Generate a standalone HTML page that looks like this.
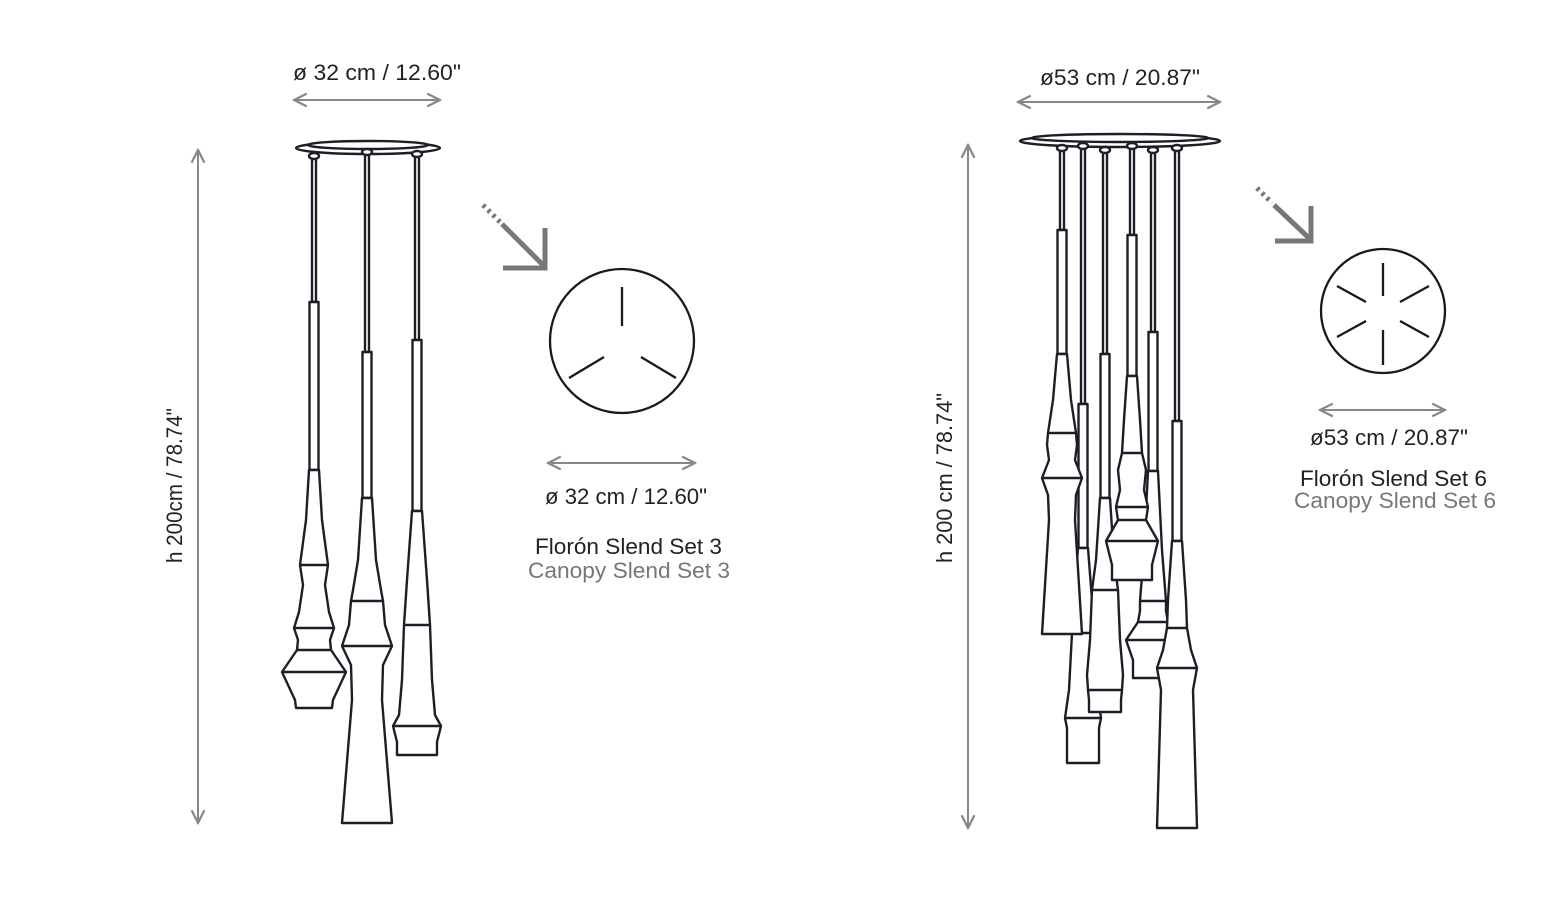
<!DOCTYPE html>
<html><head><meta charset="utf-8"><style>
html,body{margin:0;padding:0;background:#fff}
svg{display:block}
text{font-family:"Liberation Sans Narrow","Liberation Sans",sans-serif}
</style></head><body>
<svg id="s" width="1556" height="912" viewBox="0 0 1556 912" xmlns="http://www.w3.org/2000/svg">
<defs>
<marker id="ah" viewBox="0 0 10 10" refX="9" refY="5" markerWidth="8" markerHeight="8" orient="auto-start-reverse"><path d="M1,1 L9,5 L1,9" fill="none" stroke="#888" stroke-width="1.4"/></marker>
</defs>
<g stroke="#888" stroke-width="2" fill="none">
<line x1="294" y1="100" x2="440" y2="100" marker-start="url(#ah)" marker-end="url(#ah)"/>
<line x1="198" y1="150" x2="198" y2="823" marker-start="url(#ah)" marker-end="url(#ah)"/>
<line x1="548" y1="463" x2="695" y2="463" marker-start="url(#ah)" marker-end="url(#ah)"/>
<line x1="1018" y1="102" x2="1220" y2="102" marker-start="url(#ah)" marker-end="url(#ah)"/>
<line x1="968" y1="145" x2="968" y2="828" marker-start="url(#ah)" marker-end="url(#ah)"/>
<line x1="1320" y1="410" x2="1445" y2="410" marker-start="url(#ah)" marker-end="url(#ah)"/>
</g>
<g fill="#222" font-size="22">
<text x="293" y="80" textLength="168" lengthAdjust="spacingAndGlyphs">ø 32 cm / 12.60"</text>
<text x="1040" y="85" textLength="160" lengthAdjust="spacingAndGlyphs">ø53 cm / 20.87"</text>
<text x="545" y="504" textLength="162" lengthAdjust="spacingAndGlyphs">ø 32 cm / 12.60"</text>
<text x="535" y="554" textLength="187" lengthAdjust="spacingAndGlyphs">Florón Slend Set 3</text>
<text x="528" y="578" textLength="202" lengthAdjust="spacingAndGlyphs" fill="#777">Canopy Slend Set 3</text>
<text x="1310" y="445" textLength="158" lengthAdjust="spacingAndGlyphs">ø53 cm / 20.87"</text>
<text x="1300" y="486" textLength="187" lengthAdjust="spacingAndGlyphs">Florón Slend Set 6</text>
<text x="1294" y="508" textLength="202" lengthAdjust="spacingAndGlyphs" fill="#777">Canopy Slend Set 6</text>
<text transform="translate(182,563) rotate(-90)" textLength="155" lengthAdjust="spacingAndGlyphs">h 200cm / 78.74"</text>
<text transform="translate(952,563) rotate(-90)" textLength="170" lengthAdjust="spacingAndGlyphs">h 200 cm / 78.74"</text>
</g>
<g stroke="#777" fill="none" stroke-linecap="butt">
<path d="M483,205 L500,222" stroke-width="5" stroke-dasharray="3,4"/>
<path d="M502,224 L544,266" stroke-width="5"/>
<path d="M545,228 L545,268 L503,268" stroke-width="5"/>
<path d="M1257,188 L1272,203" stroke-width="5" stroke-dasharray="3,4"/>
<path d="M1274,205 L1310,239" stroke-width="5"/>
<path d="M1311,206 L1311,241 L1275,241" stroke-width="5"/>
</g>
<g stroke="#1a1a1a" stroke-width="2.3" fill="none">
<circle cx="622" cy="341" r="72"/>
<line x1="622" y1="287" x2="622" y2="326"/>
<line x1="604" y1="357" x2="569" y2="378"/>
<line x1="641" y1="357" x2="676" y2="378"/>
<circle cx="1383" cy="311" r="62"/>
<line x1="1383" y1="263" x2="1383" y2="296"/>
<line x1="1383" y1="330" x2="1383" y2="365"/>
<line x1="1337" y1="286" x2="1366" y2="302"/>
<line x1="1429" y1="286" x2="1400" y2="302"/>
<line x1="1337" y1="337" x2="1366" y2="321"/>
<line x1="1429" y1="337" x2="1400" y2="321"/>
</g>
<g id="lamps" stroke="#1c1f28" stroke-width="2.4" fill="#fff" stroke-linejoin="round"></g>
</svg>
<script>
var g=document.getElementById('lamps');
var NS='http://www.w3.org/2000/svg';
function el(t,a){var e=document.createElementNS(NS,t);for(var k in a)e.setAttribute(k,a[k]);g.appendChild(e);return e;}
function canopy(x1,x2,y){var cx=(x1+x2)/2,rx=(x2-x1)/2;
 el('ellipse',{cx:cx,cy:y+6,rx:rx,ry:6});
 el('ellipse',{cx:cx,cy:y+3,rx:rx-12,ry:4});}
function lamp(x,ctop,tube,body,prof,rings){
 el('rect',{x:x-2,y:ctop,width:4,height:tube-ctop});
 el('ellipse',{cx:x,cy:ctop,rx:5,ry:3});
 el('rect',{x:x-4.5,y:tube,width:9,height:body-tube});
 var L=[],R=[];
 prof.forEach(function(p){L.push((x-p[1]).toFixed(1)+','+p[0]);R.unshift((x+p[1]).toFixed(1)+','+p[0]);});
 el('path',{d:'M'+L.join(' L')+' L'+R.join(' L')+' Z'});
 (rings||[]).forEach(function(r){
  var w=0;for(var i=0;i<prof.length-1;i++){if(r>=prof[i][0]&&r<=prof[i+1][0]){var t=(r-prof[i][0])/(prof[i+1][0]-prof[i][0]);w=prof[i][1]+t*(prof[i+1][1]-prof[i][1]);}}
  el('line',{x1:x-w,y1:r,x2:x+w,y2:r});});
}
canopy(296,440,142);
lamp(314,156,302,470,[[470,5],[520,8],[550,12],[565,14],[585,11],[612,15],[628,20],[640,16],[650,17],[672,32],[700,19],[708,18]],[565,628,650,672]);
lamp(367,152,352,498,[[498,5],[560,9],[590,14],[601,16],[625,18],[646,25],[665,16],[700,15],[823,25]],[601,646]);
lamp(417,154,340,511,[[511,5],[580,10],[625,13],[680,15],[715,18],[726,24],[742,20],[755,20]],[625,726]);
canopy(1020,1220,135);
lamp(1083,146,404,548,[[548,5],[600,9],[633,11],[690,14],[718,18],[728,16],[745,16],[763,16]],[633,718]);
lamp(1062,148,230,354,[[354,5],[400,9],[433,14],[445,15],[460,13],[478,20],[495,14],[520,13],[634,20]],[433,478]);
lamp(1105,150,354,498,[[498,5],[560,9],[590,13],[640,15],[675,18],[690,17],[700,16],[712,16]],[590,690]);
lamp(1153,150,332,471,[[471,5],[550,9],[601,13],[611,13],[622,15],[640,27],[660,20],[678,20]],[601,622,640]);
lamp(1132,146,235,376,[[376,5],[420,8],[453,10],[470,14],[490,12],[507,16],[520,14],[541,26],[565,20],[580,20]],[453,507,520,541]);
lamp(1177,148,421,541,[[541,5],[600,9],[628,10],[650,14],[668,20],[690,16],[828,20]],[628,668]);
</script>
</body></html>
